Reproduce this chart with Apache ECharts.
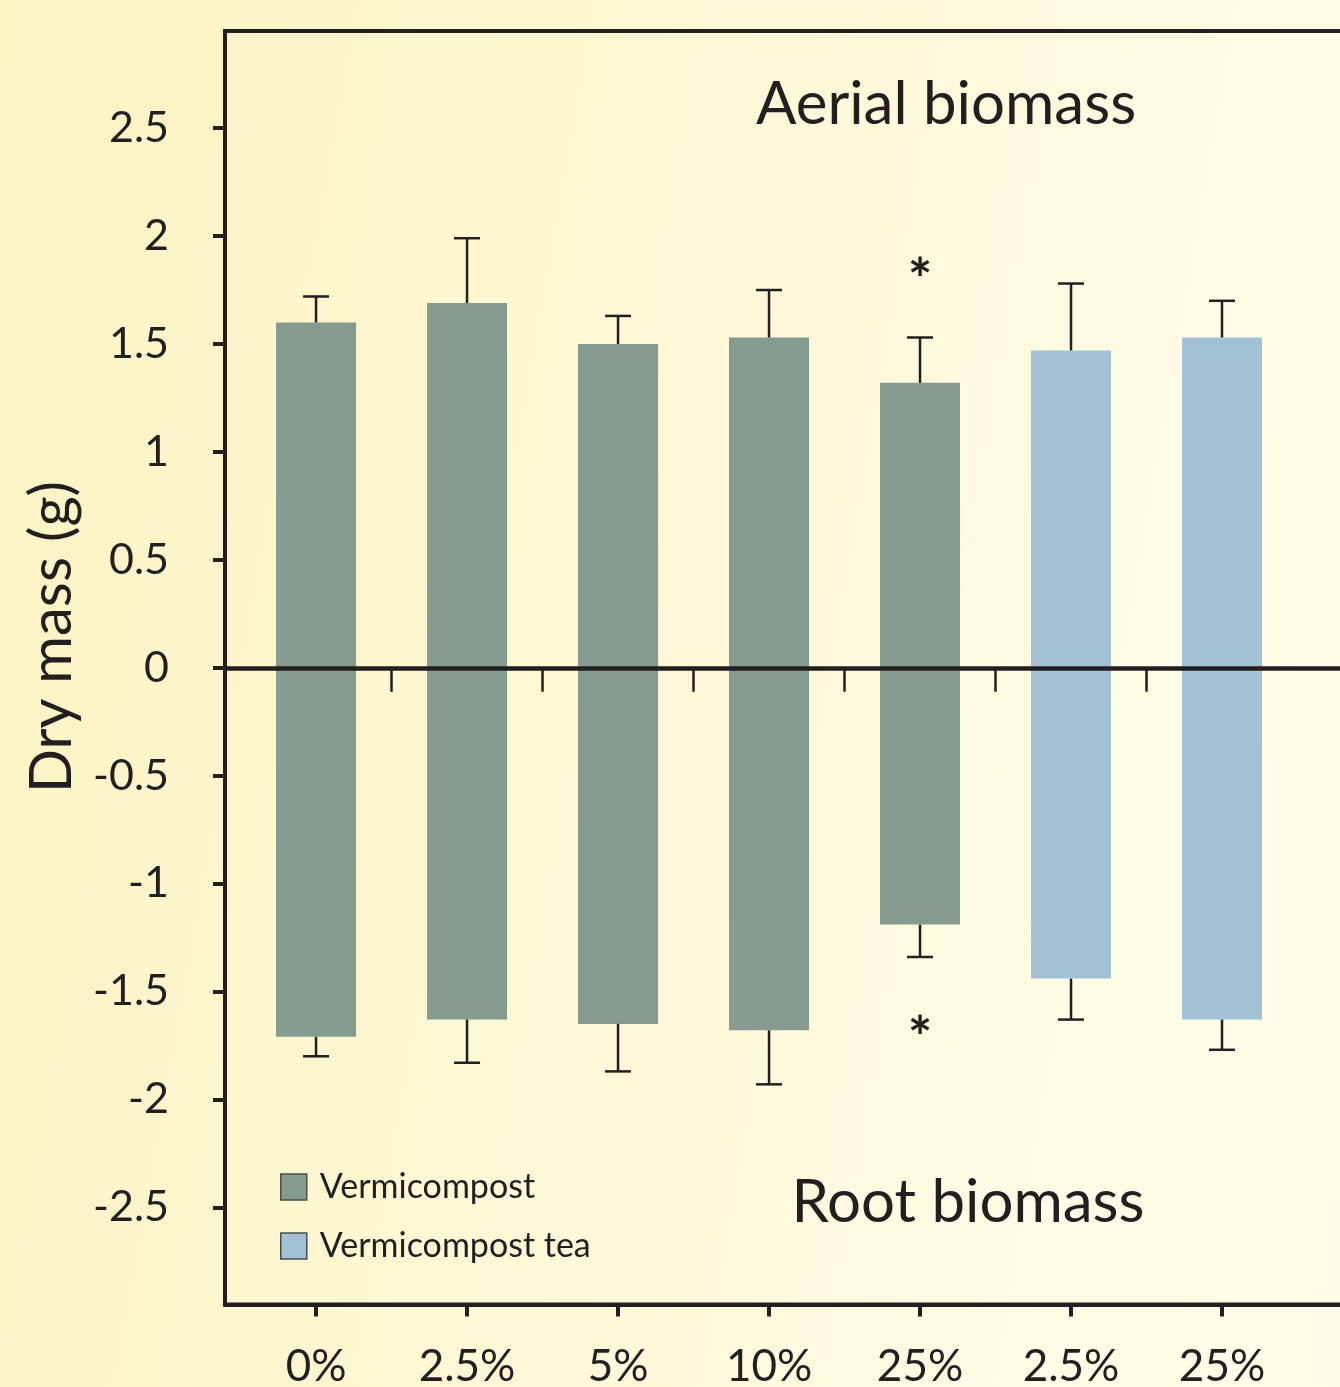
<!DOCTYPE html>
<html>
<head>
<meta charset="utf-8">
<script src="https://cdn.jsdelivr.net/npm/echarts@6/dist/echarts.min.js"></script>
<style>
  html, body { margin: 0; padding: 0; }
  body { width: 1340px; height: 1387px; background: linear-gradient(100deg, #fbf3c2 0%, #fdf7d3 40%, #fffbe3 75%, #fffde9 100%); overflow: hidden; }
  #chart { width: 1340px; height: 1387px; }
</style>
</head>
<body>
<div id="chart"></div>
<script>
// ---- data ----
const categories = ['0%', '2.5%', '5%', '10%', '25%', '2.5%', '25%'];
const groups = ['Vermicompost', 'Vermicompost', 'Vermicompost', 'Vermicompost', 'Vermicompost', 'Vermicompost tea', 'Vermicompost tea'];
const aerialMean = [1.60, 1.69, 1.50, 1.53, 1.32, 1.47, 1.53];
const aerialSE   = [0.12, 0.30, 0.13, 0.22, 0.21, 0.31, 0.17];
const rootMean   = [-1.71, -1.63, -1.65, -1.68, -1.19, -1.44, -1.63];
const rootSE     = [0.09, 0.20, 0.22, 0.25, 0.15, 0.19, 0.14];
const aerialSignif = [0, 0, 0, 0, 1, 0, 0];
const rootSignif   = [0, 0, 0, 0, 1, 0, 0];
const yTicks = [-2.5, -2, -1.5, -1, -0.5, 0, 0.5, 1, 1.5, 2, 2.5];
const seriesNames = ['Vermicompost', 'Vermicompost tea'];
const colors = { 'Vermicompost': '#869b8f', 'Vermicompost tea': '#a3c1d4' };

const INK = '#231f20';
const FONT = 'Lato';

const idx = categories.map((c, i) => i);
const midTicks = idx.slice(0, -1).map(i => i + 0.5);

function barData(name) {
  const d = [];
  idx.forEach(i => {
    if (groups[i] === name) {
      d.push([i, aerialMean[i]]);
      d.push([i, rootMean[i]]);
    }
  });
  return d;
}

const errData = [];
idx.forEach(i => {
  errData.push([i, aerialMean[i], aerialSE[i]]);
  errData.push([i, rootMean[i], -rootSE[i]]);
});

const starData = [];
idx.forEach(i => {
  if (aerialSignif[i]) starData.push([i, aerialMean[i] + aerialSE[i], 1]);
  if (rootSignif[i]) starData.push([i, rootMean[i] - rootSE[i], -1]);
});

const chart = echarts.init(document.getElementById('chart'), null, { renderer: 'canvas' });

const XMIN = -0.603, XMAX = 6.947;

const option = {
  backgroundColor: 'transparent',
  animation: false,
  textStyle: { fontFamily: FONT, color: INK },
  grid: {
    left: 225, top: 31, width: 1140, height: 1273.5,
    outerBoundsMode: 'none', containLabel: false,
    show: true, borderColor: INK, borderWidth: 4, backgroundColor: 'transparent'
  },
  legend: {
    data: seriesNames,
    orient: 'vertical',
    left: 275, top: 1165,
    itemWidth: 26, itemHeight: 26, itemGap: 25,
    icon: 'rect',
    itemStyle: { borderColor: '#4d4d4d', borderWidth: 1.5 },
    textStyle: { fontFamily: FONT, fontSize: 34, lineHeight: 26, color: INK, padding: [0, 0, 0, 8] },
    selectedMode: false
  },
  xAxis: [
    {
      type: 'value', min: XMIN, max: XMAX, position: 'bottom',
      axisLine: { show: true, onZero: false, lineStyle: { color: INK, width: 4 } },
      axisTick: { show: true, customValues: idx, length: 12, lineStyle: { color: INK, width: 4 } },
      axisLabel: {
        show: true, customValues: idx, margin: 40,
        fontFamily: FONT, fontSize: 44, color: INK,
        formatter: v => categories[Math.round(v)]
      },
      splitLine: { show: false }
    },
    {
      type: 'value', min: XMIN, max: XMAX, position: 'top', z: 10,
      axisLine: { show: true, onZero: true, onZeroAxisIndex: 0, lineStyle: { color: INK, width: 4.5 } },
      axisTick: { show: true, inside: true, customValues: midTicks, length: 24, lineStyle: { color: INK, width: 2.5 } },
      axisLabel: { show: false },
      splitLine: { show: false }
    }
  ],
  yAxis: {
    type: 'value', min: -2.95, max: 2.95,
    axisLine: { show: true, onZero: false, lineStyle: { color: INK, width: 4 } },
    axisTick: { show: true, customValues: yTicks, length: 12, lineStyle: { color: INK, width: 4 } },
    axisLabel: { show: true, customValues: yTicks, margin: 56, fontFamily: FONT, fontSize: 43, color: INK },
    splitLine: { show: false }
  },
  graphic: [
    { type: 'text', x: 52, y: 637, rotation: Math.PI / 2,
      style: { text: 'Dry mass (g)', fontFamily: FONT, fontSize: 58, fill: INK, align: 'center', verticalAlign: 'middle' } },
    { type: 'text', x: 946, y: 105,
      style: { text: 'Aerial biomass', fontFamily: FONT, fontSize: 60, fill: INK, align: 'center', verticalAlign: 'middle' } },
    { type: 'text', x: 968, y: 1203,
      style: { text: 'Root biomass', fontFamily: FONT, fontSize: 60, fill: INK, align: 'center', verticalAlign: 'middle' } }
  ],
  series: [
    ...seriesNames.map(name => ({
      name: name, type: 'bar', xAxisIndex: 0, yAxisIndex: 0,
      barWidth: 80, barGap: '-100%',
      itemStyle: { color: colors[name] },
      data: barData(name)
    })),
    {
      type: 'custom', name: 'error', xAxisIndex: 0, yAxisIndex: 0, z: 3,
      data: errData,
      renderItem: function (params, api) {
        const x = api.value(0), y = api.value(1), e = api.value(2);
        const p0 = api.coord([x, y]);
        const p1 = api.coord([x, y + e]);
        const hw = 13;
        return {
          type: 'group',
          children: [
            { type: 'line', shape: { x1: p0[0], y1: p0[1], x2: p1[0], y2: p1[1] }, style: { stroke: INK, lineWidth: 2.5 } },
            { type: 'line', shape: { x1: p1[0] - hw, y1: p1[1], x2: p1[0] + hw, y2: p1[1] }, style: { stroke: INK, lineWidth: 2.5 } }
          ]
        };
      }
    },
    {
      type: 'custom', name: 'signif', xAxisIndex: 0, yAxisIndex: 0, z: 3,
      data: starData,
      renderItem: function (params, api) {
        const x = api.value(0), y = api.value(1), dir = api.value(2);
        const p = api.coord([x, y]);
        return {
          type: 'text',
          x: p[0], y: p[1] - dir * (dir > 0 ? 56 : 82),
          style: { text: '*', fontFamily: FONT, fontWeight: 'bold', fontSize: 58, fill: INK, align: 'center', verticalAlign: 'middle' }
        };
      }
    }
  ]
};

chart.setOption(option);
</script>
</body>
</html>
